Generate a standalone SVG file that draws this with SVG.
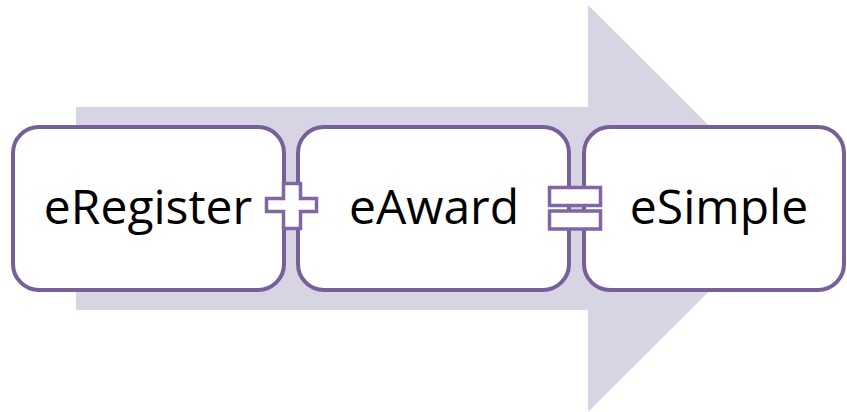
<svg xmlns="http://www.w3.org/2000/svg" width="847" height="412" viewBox="0 0 847 412">
<style>
.box{fill:#fff;stroke:#77609a;stroke-width:4}
.sym{fill:#fff;stroke:#8066a3;stroke-width:3.5}
.lbl{font-family:"Open Sans","Liberation Sans",sans-serif;font-size:48px;fill:#000;text-anchor:middle}
</style>
<rect width="847" height="412" fill="#fff"/>
<g id="arrow">
<polygon points="76,107 588,107 588,5 792,208.5 588,412 588,310 76,310" fill="#d7d4e4"/>
</g>
<g id="eRegister">
<rect class="box" x="13" y="127" width="271" height="163" rx="26"/>
<text class="lbl" x="148" y="224">eRegister</text>
</g>
<g id="eAward">
<rect class="box" x="298" y="127" width="271" height="163" rx="26"/>
<text class="lbl" x="434" y="224">eAward</text>
</g>
<g id="eSimple">
<rect class="box" x="584" y="127" width="260" height="163" rx="26"/>
<text class="lbl" x="719" y="224">eSimple</text>
</g>
<g id="connectors">
<polygon class="sym" points="283.5,183.5 300.5,183.5 300.5,198.5 316.5,198.5 316.5,211.5 300.5,211.5 300.5,228.5 283.5,228.5 283.5,211.5 266.5,211.5 266.5,198.5 283.5,198.5"/>
<rect class="sym" x="549.5" y="187.5" width="51" height="18"/>
<rect class="sym" x="549.5" y="211" width="51" height="18"/>
</g>
</svg>
